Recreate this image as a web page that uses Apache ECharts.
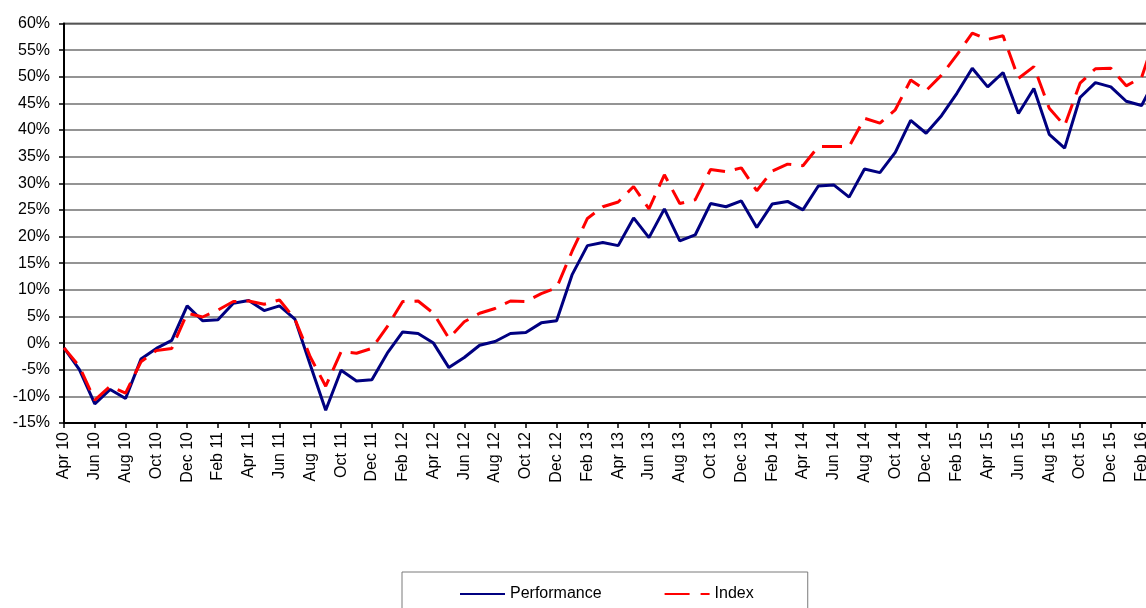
<!DOCTYPE html>
<html>
<head>
<meta charset="utf-8">
<script src="https://cdn.jsdelivr.net/npm/echarts@6/dist/echarts.min.js"></script>
<style>
  html, body { margin: 0; padding: 0; background: #fff; }
  #chart { width: 1146px; height: 608px; }
</style>
</head>
<body>
<div id="chart"></div>
<script>
var months = [
  'Apr 10','May 10','Jun 10','Jul 10','Aug 10','Sep 10','Oct 10','Nov 10','Dec 10',
  'Jan 11','Feb 11','Mar 11','Apr 11','May 11','Jun 11','Jul 11','Aug 11','Sep 11','Oct 11','Nov 11','Dec 11',
  'Jan 12','Feb 12','Mar 12','Apr 12','May 12','Jun 12','Jul 12','Aug 12','Sep 12','Oct 12','Nov 12','Dec 12',
  'Jan 13','Feb 13','Mar 13','Apr 13','May 13','Jun 13','Jul 13','Aug 13','Sep 13','Oct 13','Nov 13','Dec 13',
  'Jan 14','Feb 14','Mar 14','Apr 14','May 14','Jun 14','Jul 14','Aug 14','Sep 14','Oct 14','Nov 14','Dec 14',
  'Jan 15','Feb 15','Mar 15','Apr 15','May 15','Jun 15','Jul 15','Aug 15','Sep 15','Oct 15','Nov 15','Dec 15',
  'Jan 16','Feb 16','Mar 16'
];

// values in %
var performance = [
  -0.9, -5.0, -11.4, -8.7, -10.4, -3.0, -1.0, 0.5, 7.0,
  4.2, 4.4, 7.5, 8.0, 6.1, 7.0, 4.5, -4.1, -12.6, -5.1, -7.1, -6.9,
  -1.9, 2.1, 1.8, 0.0, -4.6, -2.7, -0.4, 0.3, 1.8, 2.0, 3.8, 4.2,
  12.8, 18.3, 18.9, 18.3, 23.5, 19.8, 25.2, 19.2, 20.3, 26.2, 25.6, 26.7,
  21.7, 26.1, 26.6, 25.0, 29.5, 29.7, 27.4, 32.7, 32.0, 35.8, 41.8, 39.4,
  42.7, 46.9, 51.6, 48.1, 50.8, 43.1, 47.8, 39.2, 36.6, 46.1, 48.9, 48.1,
  45.4, 44.6, 50.2
];

var indexValues = [
  -0.9, -4.4, -10.7, -8.1, -9.4, -3.5, -1.4, -1.0, 5.6,
  4.9, 6.2, 7.8, 7.9, 7.3, 8.1, 4.5, -2.6, -8.1, -1.6, -1.9, -1.0,
  3.1, 7.8, 7.9, 5.6, 0.9, 4.0, 5.6, 6.5, 7.9, 7.8, 9.3, 10.4,
  17.2, 23.4, 25.6, 26.5, 29.4, 25.2, 31.6, 26.2, 26.9, 32.6, 32.2, 32.9,
  28.6, 32.3, 33.6, 33.3, 36.9, 36.9, 36.9, 42.2, 41.3, 43.8, 49.4, 47.4,
  50.3, 54.1, 58.2, 57.0, 57.7, 49.7, 51.9, 44.1, 40.8, 48.8, 51.5, 51.6,
  48.3, 49.9, 58.5
];

var seriesNames = ['Performance', 'Index'];

var chart = echarts.init(document.getElementById('chart'));
var font = 'Liberation Sans, Arial, sans-serif';

chart.setOption({
  animation: false,
  grid: {
    left: 64,
    top: 23.5,
    width: 1093,
    bottom: 185,
    outerBoundsMode: 'none',
    show: true,
    borderColor: '#000',
    borderWidth: 1.5
  },
  legend: {
    data: [
      { name: seriesNames[0] },
      { name: seriesNames[1], lineStyle: { type: [25, 11] } }
    ],
    left: 402,
    top: 572,
    orient: 'horizontal',
    padding: [14, 54, 40, 57],
    itemWidth: 45,
    itemHeight: 14,
    itemGap: 62,
    borderColor: '#7a7a7a',
    borderWidth: 1,
    itemStyle: { opacity: 0 },
    textStyle: { fontFamily: font, fontSize: 16, color: '#000' }
  },
  xAxis: {
    type: 'category',
    data: months,
    boundaryGap: false,
    axisLine: { onZero: false, lineStyle: { color: '#000', width: 2 } },
    axisTick: { interval: 1, length: 5, lineStyle: { color: '#000', width: 1.5 } },
    axisLabel: {
      interval: 1,
      rotate: 90,
      margin: 9,
      fontFamily: font,
      fontSize: 16,
      color: '#000'
    },
    splitLine: { show: false }
  },
  yAxis: {
    type: 'value',
    min: -15,
    max: 60,
    interval: 5,
    axisLine: { show: true, lineStyle: { color: '#000', width: 2 } },
    axisTick: { show: true, length: 5, lineStyle: { color: '#000', width: 1.5 } },
    axisLabel: {
      formatter: '{value}%',
      margin: 14,
      fontFamily: font,
      fontSize: 16,
      color: '#000'
    },
    splitLine: { lineStyle: { color: '#707070', width: 1.5 } }
  },
  series: [
    {
      name: seriesNames[0],
      type: 'line',
      data: performance,
      symbol: 'none',
      color: '#000080',
      lineStyle: { color: '#000080', width: 3 },
      z: 3
    },
    {
      name: seriesNames[1],
      type: 'line',
      data: indexValues,
      symbol: 'none',
      color: '#ff0000',
      lineStyle: { color: '#ff0000', width: 3, type: [20, 10] },
      z: 4
    }
  ]
});
</script>
</body>
</html>
